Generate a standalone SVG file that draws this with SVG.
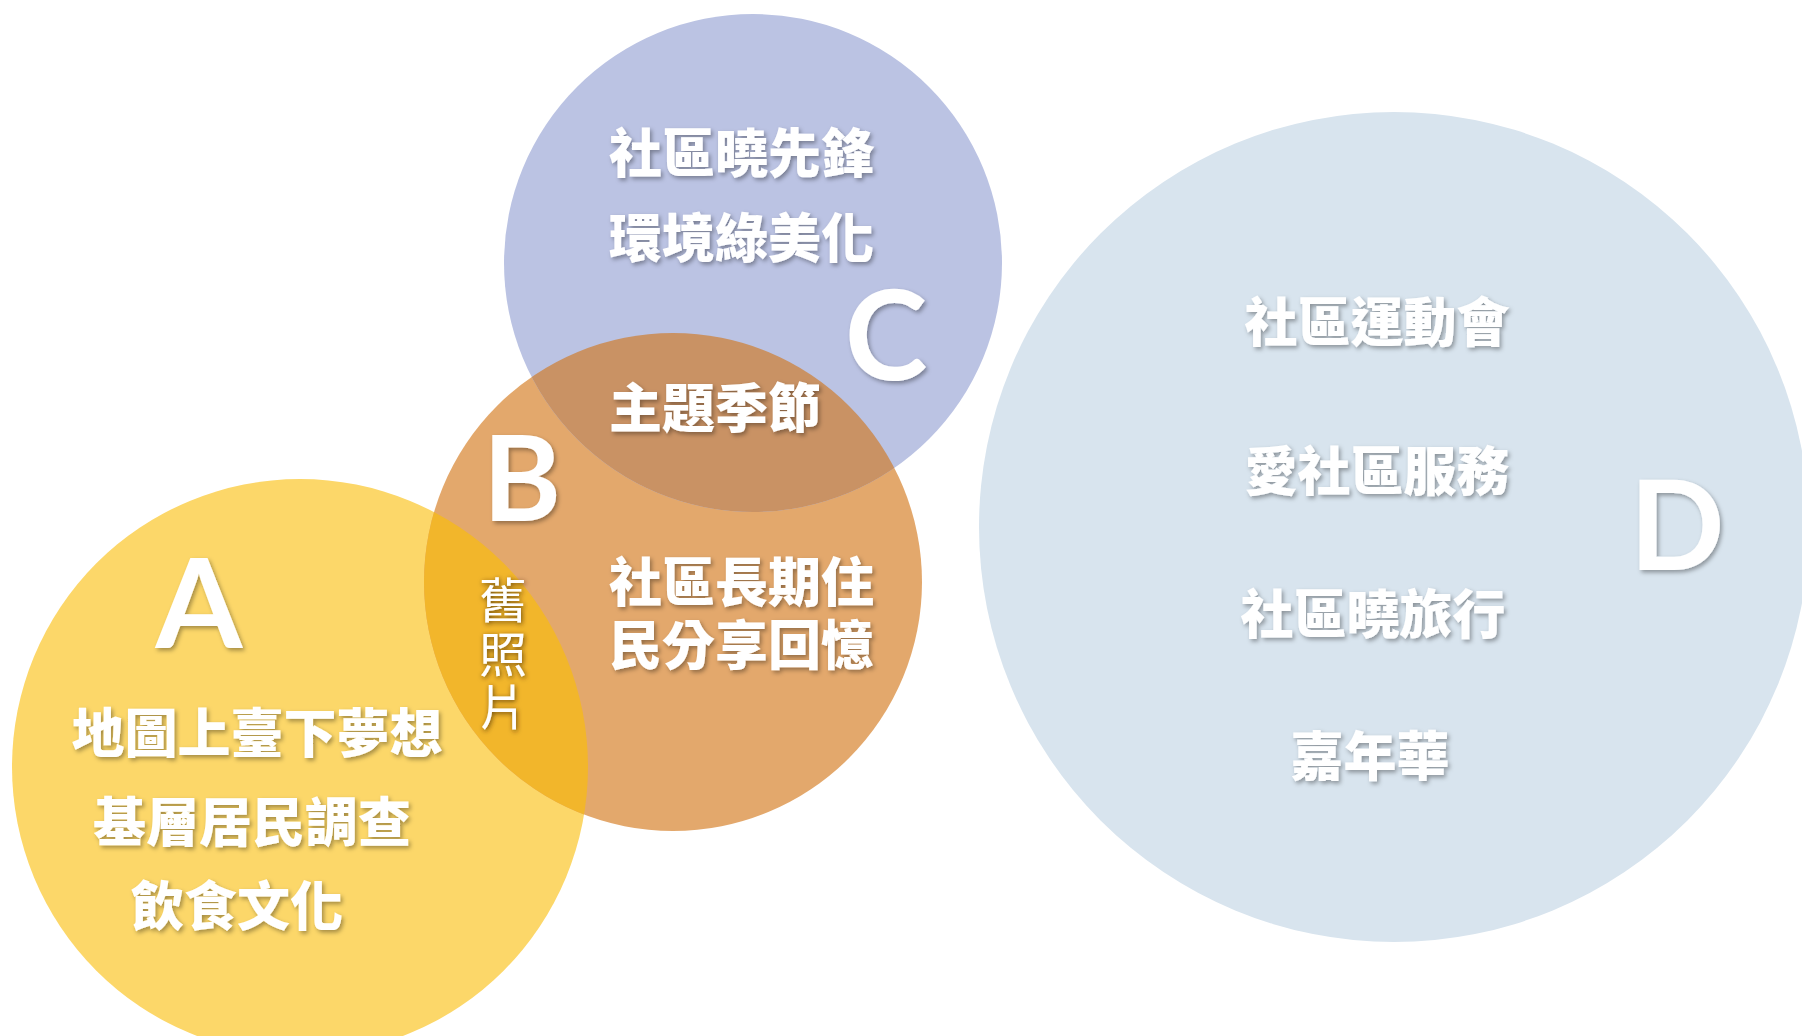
<svg xmlns="http://www.w3.org/2000/svg" width="1802" height="1036" viewBox="0 0 1802 1036">
  <defs>
    <clipPath id="clipB"><circle cx="673" cy="582" r="249"/></clipPath>
    <clipPath id="clipC"><circle cx="753" cy="263" r="249"/></clipPath>
    <filter id="sh" x="-10%" y="-20%" width="120%" height="150%">
      <feDropShadow dx="2" dy="2.5" stdDeviation="2" flood-color="#000" flood-opacity="0.35"/>
    </filter>
    <filter id="sh2" x="-30%" y="-20%" width="160%" height="140%">
      <feDropShadow dx="1" dy="1.5" stdDeviation="2.5" flood-color="#3a2000" flood-opacity="0.75"/>
    </filter>
  </defs>
  <style>
    .t { font-family: "Noto Sans CJK TC", "Noto Sans CJK SC", sans-serif; font-weight: 900; font-size: 53px; fill: #ffffff; filter: url(#sh); }
    .v { font-family: "Noto Sans CJK TC", "Noto Sans CJK SC", sans-serif; font-weight: 400; font-size: 48px; fill: #ffffff; filter: url(#sh2); writing-mode: vertical-rl; letter-spacing: 5.5px; }
    .L { font-family: Lato, "Open Sans", sans-serif; font-weight: 700; font-size: 125px; fill: #ffffff; filter: url(#sh); text-anchor: middle; }
    .m { text-anchor: middle; }
  </style>
  <rect width="1802" height="1036" fill="#ffffff"/>

  <g id="circle-D">
    <circle cx="1394" cy="527" r="415" fill="#D8E4EE"/>
  </g>
  <g id="circle-A">
    <circle cx="300" cy="767" r="288" fill="#FCD769"/>
  </g>
  <g id="circle-B">
    <circle cx="673" cy="582" r="249" fill="#E3A86C"/>
    <circle cx="300" cy="767" r="288" fill="#F2B62B" clip-path="url(#clipB)"/>
  </g>
  <g id="circle-C">
    <circle cx="753" cy="263" r="249" fill="#BBC3E3"/>
    <circle cx="673" cy="582" r="249" fill="#C99264" clip-path="url(#clipC)"/>
  </g>

  <g id="connectors"></g>

  <g id="node-C-text">
    <text class="t" x="609" y="173">社區曉先鋒</text>
    <text class="t" x="609" y="258">環境綠美化</text>
    <text class="L" x="886" y="380">C</text>
  </g>
  <g id="node-B-text">
    <text class="t" x="609" y="428">主題季節</text>
    <text class="L" x="522" y="521" style="font-size:119px">B</text>
    <text class="t"><tspan x="609" y="602">社區長期住</tspan><tspan x="609" y="665">民分享回憶</tspan></text>
  </g>
  <g id="node-AB-text">
    <text class="v" x="503" y="576">舊照片</text>
  </g>
  <g id="node-A-text">
    <text class="L" x="199" y="648">A</text>
    <text class="t m" x="257" y="753">地圖上臺下夢想</text>
    <text class="t m" x="252" y="842">基層居民調查</text>
    <text class="t m" x="237" y="926">飲食文化</text>
  </g>
  <g id="node-D-text">
    <text class="t m" x="1377" y="342">社區運動會</text>
    <text class="t m" x="1377" y="491">愛社區服務</text>
    <text class="t m" x="1373" y="634">社區曉旅行</text>
    <text class="t m" x="1370" y="776">嘉年華</text>
    <text class="L" x="1677" y="570">D</text>
  </g>
</svg>
